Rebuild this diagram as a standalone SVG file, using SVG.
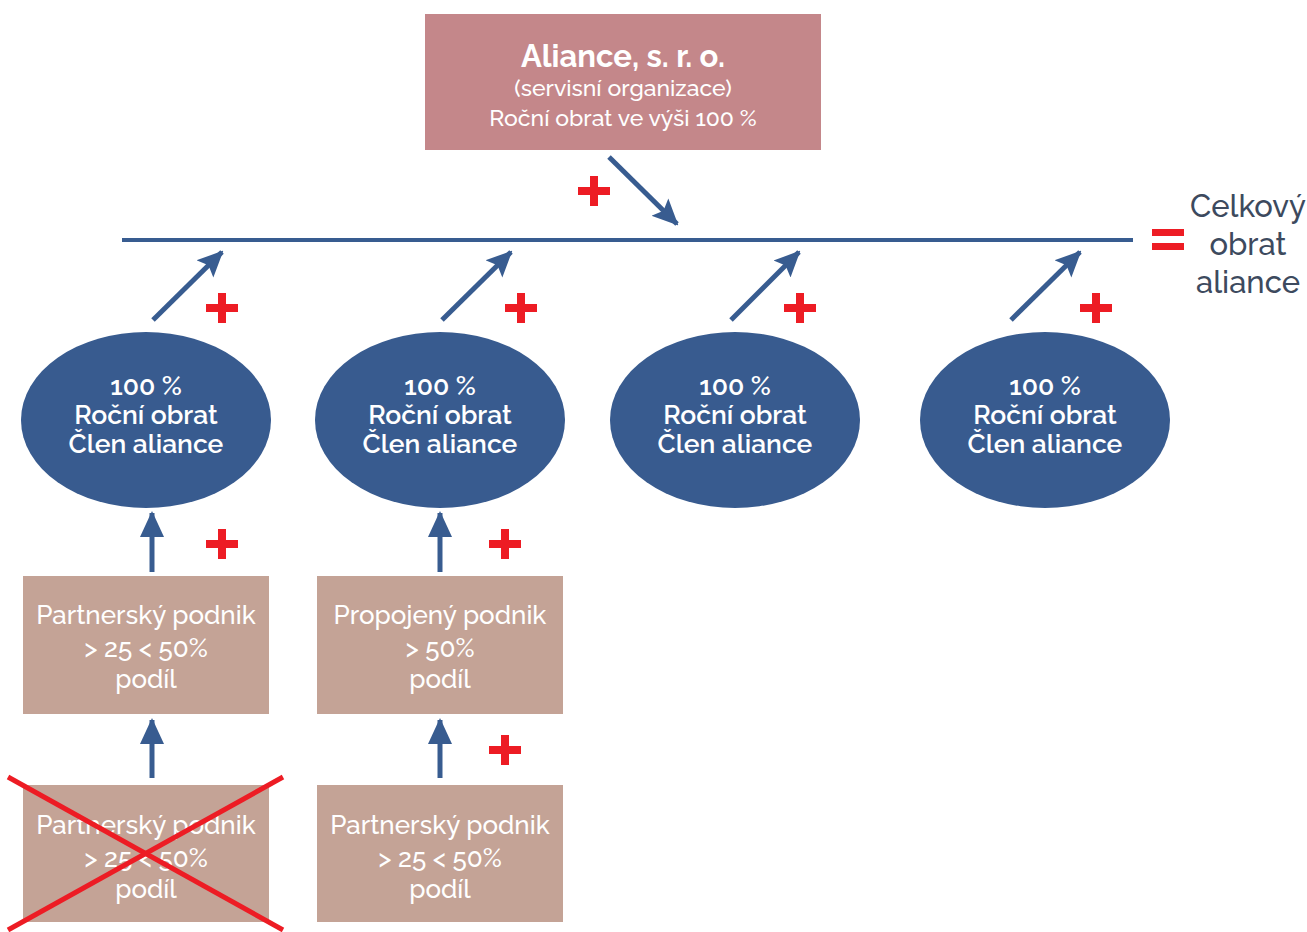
<svg xmlns="http://www.w3.org/2000/svg" width="1307" height="932" viewBox="0 0 1307 932">
<defs>
<marker id="ah" markerUnits="userSpaceOnUse" markerWidth="26" markerHeight="26" viewBox="0 0 26 26" refX="24" refY="13" orient="auto">
<polygon points="0,1 26,13 0,25 5,13" fill="#385C90"/>
</marker>
<marker id="ah2" markerUnits="userSpaceOnUse" markerWidth="26" markerHeight="26" viewBox="0 0 26 26" refX="24" refY="13" orient="auto">
<polygon points="0,1 26,13 0,25" fill="#385C90"/>
</marker>
</defs>
<style>
.t{font-family:Raleway,"Open Sans","Liberation Sans",sans-serif;fill:#fff;text-anchor:middle}
.ell{fill:#385B8F}
.box{fill:#C4A396}
.conn{stroke:#385C90;stroke-width:5;fill:none}
.plus{fill:#ED1C24}
.et{font-size:26.5px;font-weight:600}
.bt{font-size:26px;font-weight:500}
.ct{font-family:Raleway,"Open Sans","Liberation Sans",sans-serif;font-size:31px;font-weight:500;fill:#3D4A5E;text-anchor:middle}
</style>
<rect width="1307" height="932" fill="#fff"/>

<g id="top">
<rect x="425" y="14" width="396" height="136" fill="#C4878A"/>
<text class="t" x="623" y="67" font-size="31" font-weight="700">Aliance, s. r. o.</text>
<text class="t" x="623" y="96" font-size="23" font-weight="500">(servisní organizace)</text>
<text class="t" x="623" y="126" font-size="23" font-weight="500">Roční obrat ve výši 100 %</text>
</g>

<g id="e1"><ellipse class="ell" cx="146" cy="420" rx="125" ry="88"/>
<text class="t et" x="146" y="395">100 %</text><text class="t et" x="146" y="424">Roční obrat</text><text class="t et" x="146" y="453">Člen aliance</text></g>
<g id="e2"><ellipse class="ell" cx="440" cy="420" rx="125" ry="88"/>
<text class="t et" x="440" y="395">100 %</text><text class="t et" x="440" y="424">Roční obrat</text><text class="t et" x="440" y="453">Člen aliance</text></g>
<g id="e3"><ellipse class="ell" cx="735" cy="420" rx="125" ry="88"/>
<text class="t et" x="735" y="395">100 %</text><text class="t et" x="735" y="424">Roční obrat</text><text class="t et" x="735" y="453">Člen aliance</text></g>
<g id="e4"><ellipse class="ell" cx="1045" cy="420" rx="125" ry="88"/>
<text class="t et" x="1045" y="395">100 %</text><text class="t et" x="1045" y="424">Roční obrat</text><text class="t et" x="1045" y="453">Člen aliance</text></g>

<g id="b1"><rect class="box" x="23" y="576" width="246" height="138"/>
<text class="t bt" x="146" y="624">Partnerský podnik</text><text class="t bt" x="146" y="657">&gt; 25 &lt; 50%</text><text class="t bt" x="146" y="688">podíl</text></g>
<g id="b2"><rect class="box" x="317" y="576" width="246" height="138"/>
<text class="t bt" x="440" y="624">Propojený podnik</text><text class="t bt" x="440" y="657">&gt; 50%</text><text class="t bt" x="440" y="688">podíl</text></g>
<g id="b3"><rect class="box" x="23" y="785" width="246" height="137"/>
<text class="t bt" x="146" y="834">Partnerský podnik</text><text class="t bt" x="146" y="867">&gt; 25 &lt; 50%</text><text class="t bt" x="146" y="898">podíl</text></g>
<g id="b4"><rect class="box" x="317" y="785" width="246" height="137"/>
<text class="t bt" x="440" y="834">Partnerský podnik</text><text class="t bt" x="440" y="867">&gt; 25 &lt; 50%</text><text class="t bt" x="440" y="898">podíl</text></g>

<g id="total">
<rect x="1152" y="229" width="32" height="7" class="plus"/>
<rect x="1152" y="243" width="32" height="7" class="plus"/>
<text class="ct" x="1248" y="217">Celkový</text>
<text class="ct" x="1248" y="255">obrat</text>
<text class="ct" x="1248" y="293">aliance</text>
</g>

<g id="connectors">
<line x1="122" y1="240" x2="1133" y2="240" stroke="#385C90" stroke-width="4"/>
<line class="conn" x1="609" y1="157" x2="677" y2="224" marker-end="url(#ah)"/>
<line class="conn" x1="153" y1="320" x2="222" y2="252" marker-end="url(#ah)"/>
<line class="conn" x1="442" y1="320" x2="511" y2="252" marker-end="url(#ah)"/>
<line class="conn" x1="731" y1="320" x2="799" y2="252" marker-end="url(#ah)"/>
<line class="conn" x1="1011" y1="320" x2="1080" y2="252" marker-end="url(#ah)"/>
<line class="conn" x1="152" y1="572" x2="152" y2="513" marker-end="url(#ah2)"/>
<line class="conn" x1="440" y1="572" x2="440" y2="513" marker-end="url(#ah2)"/>
<line class="conn" x1="152" y1="778" x2="152" y2="720" marker-end="url(#ah2)"/>
<line class="conn" x1="440" y1="778" x2="440" y2="720" marker-end="url(#ah2)"/>
</g>

<g id="plus">
<path class="plus" d="M590,176h8v11h12v8h-12v11h-8v-11h-12v-8h12z"/>
<path class="plus" d="M218,293h8v11h12v8h-12v11h-8v-11h-12v-8h12z"/>
<path class="plus" d="M517,293h8v11h12v8h-12v11h-8v-11h-12v-8h12z"/>
<path class="plus" d="M796,293h8v11h12v8h-12v11h-8v-11h-12v-8h12z"/>
<path class="plus" d="M1092,293h8v11h12v8h-12v11h-8v-11h-12v-8h12z"/>
<path class="plus" d="M218,529h8v11h12v8h-12v11h-8v-11h-12v-8h12z"/>
<path class="plus" d="M501,529h8v11h12v8h-12v11h-8v-11h-12v-8h12z"/>
<path class="plus" d="M501,735h8v11h12v8h-12v11h-8v-11h-12v-8h12z"/>
</g>

<g id="cross" stroke="#ED1C24" stroke-width="5">
<line x1="8" y1="777" x2="283" y2="930"/>
<line x1="283" y1="777" x2="8" y2="930"/>
</g>
</svg>
